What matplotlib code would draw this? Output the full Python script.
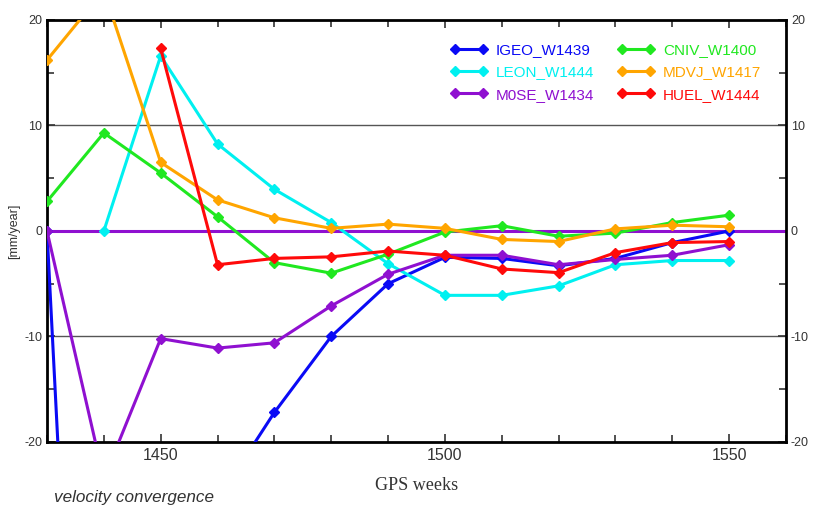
import matplotlib
matplotlib.use("Agg")
import matplotlib.pyplot as plt
from matplotlib.ticker import MultipleLocator

plt.rcParams['axes.unicode_minus'] = False
plt.rcParams['font.family'] = ['Liberation Sans', 'DejaVu Sans']

# GPS weeks
weeks = [1430, 1440, 1450, 1460, 1470, 1480, 1490, 1500, 1510, 1520, 1530, 1540, 1550]

# velocity convergence [mm/year], values outside the plot are estimated from the line slopes
igeo = [0.0, -105.0, -60.0, -25.5, -17.2, -10.0, -5.0, -2.5, -2.6, -3.3, -2.6, -1.1, 0.0]
leon = [None, 0.0, 16.6, 8.25, 3.95, 0.8, -3.1, -6.1, -6.1, -5.2, -3.2, -2.8, -2.8]
m0se = [0.0, -23.5, -10.2, -11.1, -10.6, -7.1, -4.1, -2.3, -2.3, -3.2, -2.7, -2.3, -1.3]
cniv = [2.8, 9.3, 5.5, 1.35, -3.0, -4.0, -2.2, -0.1, 0.5, -0.5, -0.2, 0.8, 1.5]
mdvj = [16.2, 22.8, 6.5, 2.95, 1.25, 0.25, 0.65, 0.25, -0.8, -1.0, 0.2, 0.55, 0.4]
huel = [None, None, 17.3, -3.2, -2.6, -2.45, -1.9, -2.3, -3.6, -3.95, -2.05, -1.1, -1.0]

series = [
    ("IGEO_W1439", igeo, "#0a0af5"),
    ("LEON_W1444", leon, "#00f0f0"),
    ("M0SE_W1434", m0se, "#8f10d0"),
    ("CNIV_W1400", cniv, "#20e820"),
    ("MDVJ_W1417", mdvj, "#ffa500"),
    ("HUEL_W1444", huel, "#ff0a0a"),
]


def main():
    fig = plt.figure(figsize=(8.13, 5.05), dpi=100)
    ax = fig.add_axes([0.0578, 0.1248, 0.909, 0.8356])

    # grid lines at the major y ticks
    for yv in (-10, 0, 10):
        ax.axhline(yv, color='#555555', lw=1.0, zorder=1)
    # purple zero line across the plot
    ax.axhline(0, color='#8f10d0', lw=2.2, zorder=2)

    for name, vals, col in series:
        xs = [w for w, v in zip(weeks, vals) if v is not None]
        ys = [v for v in vals if v is not None]
        ax.plot(xs, ys, color=col, lw=2.2, marker='D', markersize=5, label=name,
                clip_on=True, zorder=3)

    ax.set_xlim(1430, 1560)
    ax.set_ylim(-20, 20)
    ax.xaxis.set_major_locator(MultipleLocator(50))
    ax.xaxis.set_minor_locator(MultipleLocator(10))
    ax.yaxis.set_major_locator(MultipleLocator(10))
    ax.yaxis.set_minor_locator(MultipleLocator(5))
    ax.tick_params(which='both', direction='in', top=True, right=True, width=1.2, color='#333333')
    ax.tick_params(which='major', length=6)
    ax.tick_params(which='minor', length=5)
    ax.tick_params(axis='x', labelsize=11.5, pad=4, labelcolor='#333333')
    ax.tick_params(axis='y', labelsize=9, labelright=True, labelcolor='#333333')
    for s in ax.spines.values():
        s.set_linewidth(2.0)

    ax.set_ylabel('[mm/year]', fontsize=9, color='#333333', labelpad=3)
    fig.text(0.5124, 0.038, 'GPS weeks', family='Liberation Serif', fontsize=13,
             color='#333333', ha='center', va='center')
    fig.text(0.067, 0.015, 'velocity convergence', style='italic', fontsize=12.3,
             color='#333333', ha='left', va='center')

    leg = ax.legend(ncol=2, loc='upper right', bbox_to_anchor=(0.985, 0.978), frameon=False,
                    fontsize=11, numpoints=2, handlelength=2.45, columnspacing=1.5,
                    labelspacing=0.55, handletextpad=0.55)
    for txt, (_, _, col) in zip(leg.get_texts(), series):
        txt.set_color(col)

    fig.savefig('out.png', dpi=100)


if __name__ == "__main__":
    main()
